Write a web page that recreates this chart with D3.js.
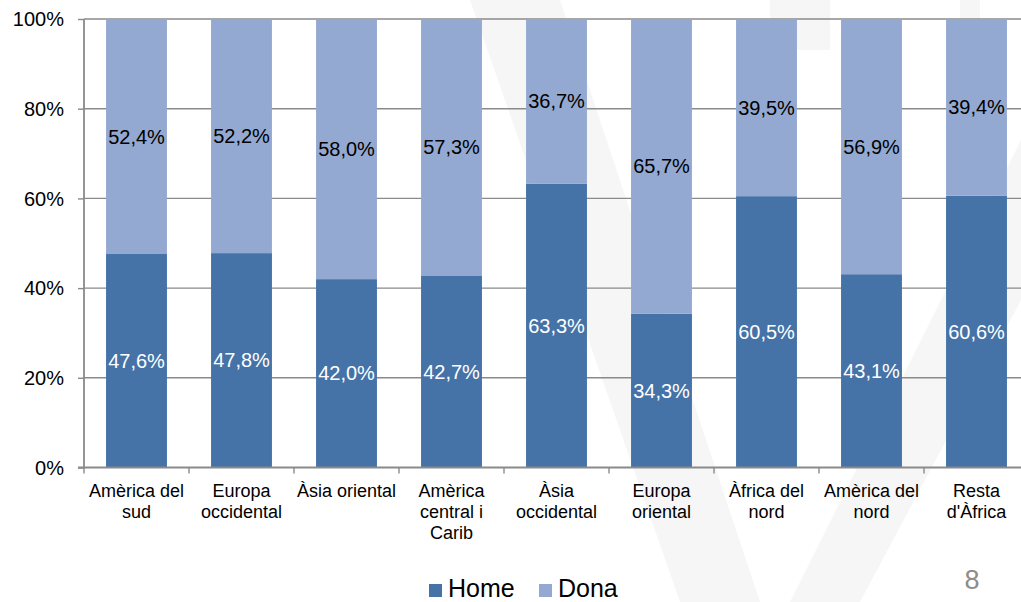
<!DOCTYPE html>
<html><head><meta charset="utf-8">
<script src="https://cdn.jsdelivr.net/npm/d3@7"></script>
<style>body{margin:0;background:#fff;}svg{display:block;font-family:"Liberation Sans",Arial,sans-serif;}</style>
</head><body>
<svg id="c" width="1021" height="602"></svg>
<script>
const categories = ["Amèrica del\nsud","Europa\noccidental","Àsia oriental","Amèrica\ncentral i\nCarib","Àsia\noccidental","Europa\noriental","Àfrica del\nnord","Amèrica del\nnord","Resta\nd'Àfrica"];
const home = [47.6, 47.8, 42.0, 42.7, 63.3, 34.3, 60.5, 43.1, 60.6];
const dona = [52.4, 52.2, 58.0, 57.3, 36.7, 65.7, 39.5, 56.9, 39.4];
const seriesNames = ["Home","Dona"];
const yTicks = [0, 20, 40, 60, 80, 100];
const pageNumber = "8";

const colors = {Home:"#4573a7", Dona:"#94a9d1"};
const svg = d3.select("#c");
const x0 = 84, step = 105;
const x = d3.scaleBand().domain(d3.range(categories.length)).range([x0, x0 + step*categories.length]).paddingInner(0.42).paddingOuter(0.21);
const y = d3.scaleLinear().domain([0,100]).range([467.5, 19]);

// faint watermark
const wm = svg.append("g").attr("fill","#f6f6f6");
wm.append("path").attr("d","M470,0 L560,0 L760,602 L680,602 Z");
wm.append("path").attr("d","M1021,140 L1021,300 L860,602 L790,602 Z");
wm.append("rect").attr("x",770).attr("y",0).attr("width",60).attr("height",50);
wm.append("rect").attr("x",960).attr("y",0).attr("width",20).attr("height",50);

// gridlines
svg.append("g").selectAll("line").data(yTicks.filter(d=>d>0)).join("line")
  .attr("x1",x0).attr("x2",1021).attr("y1",d=>y(d)).attr("y2",d=>y(d))
  .attr("stroke","#8a8a8a").attr("stroke-width",1.4);

// stacked bars
const stacked = categories.map((c,i)=>({i, Home:home[i], Dona:dona[i]}));
const stack = d3.stack().keys(seriesNames)(stacked);
const g = svg.append("g");
stack.forEach(s=>{
  g.append("g").attr("fill",colors[s.key]).selectAll("rect").data(s).join("rect")
    .attr("x",d=>x(d.data.i)).attr("width",x.bandwidth())
    .attr("y",d=>y(d[1])).attr("height",d=>y(d[0])-y(d[1]));
  g.append("g").selectAll("text").data(s).join("text")
    .attr("x",d=>x(d.data.i)+x.bandwidth()/2)
    .attr("y",d=>y((d[0]+d[1])/2)+7)
    .attr("text-anchor","middle").attr("font-size",20)
    .attr("fill", s.key==="Home" ? "#ffffff" : "#000000")
    .text(d=>d3.format(".1f")(d[1]-d[0]).replace(".",",")+"%");
});

// y axis
const yAxis = d3.axisLeft(y).tickValues(yTicks).tickSize(6).tickPadding(14).tickFormat(d=>d+"%");
const ya = svg.append("g").attr("transform",`translate(${x0},0)`).call(yAxis);
ya.select(".domain").attr("stroke","#8a8a8a").attr("stroke-width",1.8).attr("d",`M-6,${y(0)}H0V${y(100)}`);
ya.selectAll(".tick line").attr("stroke","#8a8a8a").attr("stroke-width",1.4);
ya.selectAll(".tick text").attr("font-size",20).attr("fill","#000").attr("font-family","Liberation Sans, Arial, sans-serif").attr("dy","0.34em");

// x axis
svg.append("line").attr("x1",x0).attr("x2",1021).attr("y1",y(0)).attr("y2",y(0)).attr("stroke","#8a8a8a").attr("stroke-width",1.8);
svg.append("g").selectAll("line").data(d3.range(categories.length+1)).join("line")
  .attr("x1",d=>x0+d*step).attr("x2",d=>x0+d*step).attr("y1",y(0)).attr("y2",y(0)+6)
  .attr("stroke","#8a8a8a").attr("stroke-width",1.4);
const xl = svg.append("g").selectAll("text").data(categories).join("text")
  .attr("x",(d,i)=>x(i)+x.bandwidth()/2).attr("y",497)
  .attr("text-anchor","middle").attr("font-size",18).attr("fill","#000");
xl.each(function(d){
  const t = d3.select(this);
  d.split("\n").forEach((line,k)=>{
    t.append("tspan").attr("x",t.attr("x")).attr("dy",k===0?0:21).text(line);
  });
});

// legend
const leg = svg.append("g");
const legX = [429, 539];
seriesNames.forEach((n,i)=>{
  leg.append("rect").attr("x",legX[i]).attr("y",584).attr("width",13).attr("height",13).attr("fill",colors[n]);
  leg.append("text").attr("x",legX[i]+19).attr("y",597).attr("font-size",25).attr("fill","#000").text(n);
});

// page number
svg.append("text").attr("x",972).attr("y",589).attr("text-anchor","middle").attr("font-size",27).attr("fill","#8c8c8c").text(pageNumber);
</script>
</body></html>
